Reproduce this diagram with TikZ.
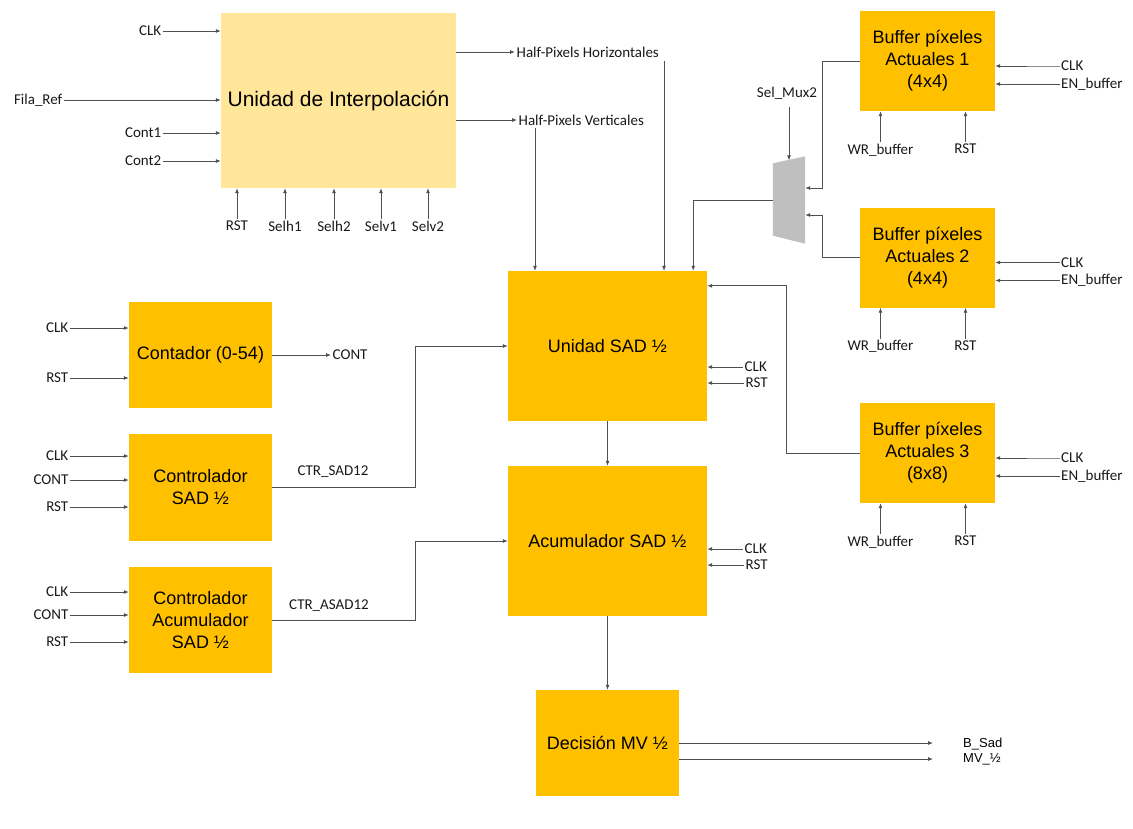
\documentclass[tikz,border=0pt]{standalone}
\usepackage{fontspec}
\setmainfont{Liberation Sans}
\newfontfamily\carlito{Carlito}
\usetikzlibrary{arrows.meta,calc}
\definecolor{orng}{HTML}{FFC000}
\definecolor{lyel}{HTML}{FFE699}
\definecolor{muxgray}{HTML}{BFBFBF}
\definecolor{wire}{HTML}{505050}
\begin{document}
\begin{tikzpicture}[x=1pt,y=-1pt,
  blk/.style={fill=orng, inner sep=0pt, align=center, font=\fontsize{18}{22}\selectfont},
  lbl/.style={font=\carlito\fontsize{15}{17}\selectfont, inner sep=1.5pt, text=black!90},
  wr/.style={draw=wire, line width=0.8pt, -{Latex[length=5pt,width=4pt]}},
  ln/.style={draw=wire, line width=0.8pt}]
\useasboundingbox (0,0) rectangle (1133,828);

% ---------- blocks ----------
\node[blk, fill=lyel, minimum width=235, minimum height=175, font=\fontsize{21}{25}\selectfont] (interp) at (338.5,100.5) {Unidad de Interpolación};
\node[blk, minimum width=199, minimum height=150] (sad) at (607.5,346) {Unidad SAD ½};
\node[blk, minimum width=199, minimum height=150] (acc) at (607.5,541) {Acumulador SAD ½};
\node[blk, minimum width=143, minimum height=106] (dec) at (607.5,743) {Decisión MV ½};
\node[blk, minimum width=143, minimum height=106] (cnt) at (200.5,355) {Contador (0-54)};
\node[blk, minimum width=143, minimum height=107] (ctl1) at (200.5,487.5) {Controlador\\SAD ½};
\node[blk, minimum width=143, minimum height=106] (ctl2) at (200.5,620) {Controlador\\Acumulador\\SAD ½};
\node[blk, minimum width=135, minimum height=100] (buf1) at (927.5,61) {Buffer píxeles\\Actuales 1\\(4x4)};
\node[blk, minimum width=135, minimum height=100] (buf2) at (927.5,257.5) {Buffer píxeles\\Actuales 2\\(4x4)};
\node[blk, minimum width=135, minimum height=100] (buf3) at (927.5,453) {Buffer píxeles\\Actuales 3\\(8x8)};

% mux
\node[minimum width=32, minimum height=87, inner sep=0pt] (mux) at (789,200) {};
\fill[muxgray] ($(mux.north west)+(0,7)$) -- (mux.north east) -- (mux.south east) -- ($(mux.south west)+(0,-8)$) -- cycle;

% ---------- interpolation inputs ----------
\node[lbl, anchor=east] (iclk) at (163,31) {CLK};
\node[lbl, anchor=east] (ifila) at (64,100) {Fila\_Ref};
\node[lbl, anchor=east] (icont1) at (163,133) {Cont1};
\node[lbl, anchor=east] (icont2) at (163,161) {Cont2};
\foreach \n in {iclk,ifila,icont1,icont2} \draw[wr] (\n.east) -- (\n.east -| interp.west);

\node[lbl, anchor=north] (irst) at (237,219) {RST};
\node[lbl, anchor=north] (iselh1) at (285,219) {Selh1};
\node[lbl, anchor=north] (iselh2) at (334,219) {Selh2};
\node[lbl, anchor=north] (iselv1) at (381,219) {Selv1};
\node[lbl, anchor=north] (iselv2) at (428,219) {Selv2};
\foreach \n in {irst,iselh1,iselh2,iselv1,iselv2} \draw[wr] (\n.north) -- (\n.north |- interp.south);

% outputs of interpolation
\node[lbl, anchor=west] (hph) at (515,52) {Half-Pixels Horizontales};
\node[lbl, anchor=west] (hpv) at (517,120) {Half-Pixels Verticales};
\draw[wr] (hph.west -| interp.east) -- (hph.west);
\draw[wr] (hpv.west -| interp.east) -- (hpv.west);
\coordinate (vh) at (664,61);
\coordinate (vv) at (535,128);
\draw[wr] (vh) -- (vh |- sad.north);
\draw[wr] (vv) -- (vv |- sad.north);

% mux connections
\node[lbl] (selmux) at (787,93) {Sel\_Mux2};
\draw[wr] ($(selmux.south)+(2,6)$) -- ($(mux.north)+(0,4)$);
\draw[wr] (mux.west) -| ([xshift=-14pt]sad.north east);
\draw[wr] (buf1.west) -- ++(-37,0) |- ($(mux.east)+(0,-12)$);
\draw[wr] (buf2.west) -- ++(-37,0) |- ($(mux.east)+(0,15)$);
\draw[wr] (buf3.west) -- ++(-73,0) |- ($(sad.north east)+(0,15)$);

% buffer inputs
\foreach \b in {buf1,buf2,buf3}{
  \node[lbl, anchor=west] (\b clk) at ($(\b.center)+(132,5)$) {CLK};
  \node[lbl, anchor=west] (\b en) at ($(\b.center)+(132,23)$) {EN\_buffer};
  \draw[wr] (\b clk.west) -- ++(-6,0) -- (\b clk.west -| \b.east);
  \draw[wr] (\b en.west) -- (\b en.west -| \b.east);
  \node[lbl, anchor=north] (\b wr) at ($(\b.south)+(-47,31)$) {WR\_buffer};
  \node[lbl, anchor=north] (\b rst) at ($(\b.south)+(38,31)$) {RST};
  \draw[wr] (\b wr.north) -- (\b wr.north |- \b.south);
  \draw[wr] (\b rst.north) -- (\b rst.north |- \b.south);
}

% SAD & acc side inputs
\node[lbl, anchor=west] (sclk) at (743,367) {CLK};
\node[lbl, anchor=west] (srst) at (744,383) {RST};
\node[lbl, anchor=west] (aclk) at (743,549) {CLK};
\node[lbl, anchor=west] (arst) at (744,565) {RST};
\draw[wr] (sclk.west) -- (sclk.west -| sad.east);
\draw[wr] (srst.west) -- (srst.west -| sad.east);
\draw[wr] (aclk.west) -- (aclk.west -| acc.east);
\draw[wr] (arst.west) -- (arst.west -| acc.east);

\draw[wr] (sad.south) -- (acc.north);
\draw[wr] (acc.south) -- (dec.north);

% counter
\node[lbl, anchor=east] (cclk) at (70,328) {CLK};
\node[lbl, anchor=east] (crst) at (70,378) {RST};
\draw[wr] (cclk.east) -- (cclk.east -| cnt.west);
\draw[wr] (crst.east) -- (crst.east -| cnt.west);
\node[lbl, anchor=west] (contout) at (331,355) {CONT};
\draw[wr] (cnt.east) -- (contout.west);

% controller 1
\node[lbl, anchor=east] (k1clk) at (70,456) {CLK};
\node[lbl, anchor=east] (k1cont) at (70,480) {CONT};
\node[lbl, anchor=east] (k1rst) at (70,507) {RST};
\foreach \n in {k1clk,k1cont,k1rst} \draw[wr] (\n.east) -- (\n.east -| ctl1.west);
\node[lbl] (ctrsad) at (333,472) {CTR\_SAD12};
\draw[wr] (ctl1.east) -- ++(143,0) |- (sad.west);

% controller 2
\node[lbl, anchor=east] (k2clk) at (70,592) {CLK};
\node[lbl, anchor=east] (k2cont) at (70,615) {CONT};
\node[lbl, anchor=east] (k2rst) at (70,642) {RST};
\foreach \n in {k2clk,k2cont,k2rst} \draw[wr] (\n.east) -- (\n.east -| ctl2.west);
\node[lbl] (ctrasad) at (329,606) {CTR\_ASAD12};
\draw[wr] (ctl2.east) -- ++(143,0) |- (acc.west);

% decision outputs
\coordinate (o1) at (933,743);
\coordinate (o2) at (933,759);
\draw[wr] (dec.east) -- (o1);
\draw[wr] (o2 -| dec.east) -- (o2);
\node[anchor=west, inner sep=0pt, font=\fontsize{13}{14}\selectfont] (bsad) at (963,744) {B\_Sad};
\node[anchor=west, inner sep=0pt, font=\fontsize{13}{14}\selectfont] (mvh) at (963,759) {MV\_½};
\end{tikzpicture}
\end{document}
